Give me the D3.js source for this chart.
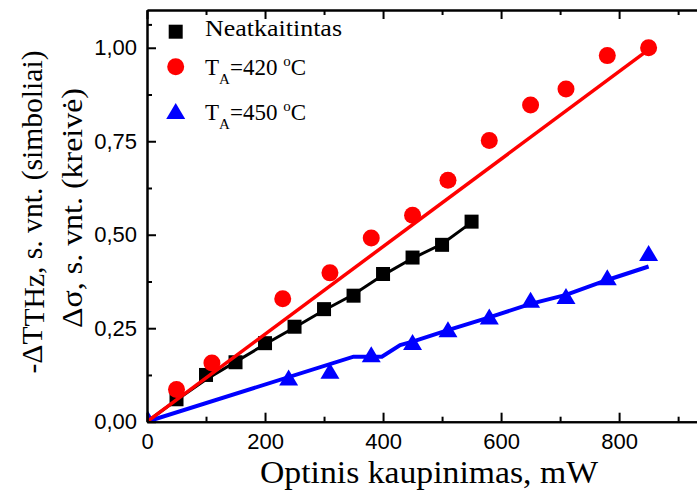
<!DOCTYPE html>
<html>
<head>
<meta charset="utf-8">
<script src="https://cdn.jsdelivr.net/npm/d3@7"></script>
<style>
  html, body { margin: 0; padding: 0; background: #fff; }
  svg { display: block; }
  .serif { font-family: "Liberation Serif", "Times New Roman", "DejaVu Serif", serif; }
  .sans { font-family: "Liberation Sans", Arial, sans-serif; }
</style>
</head>
<body>
<svg id="chart" width="697" height="504"></svg>
<script>
// Pumping power, mW, and normalised signal for each sample
const powerNeatk = [50, 100, 150, 200, 250, 300, 350, 400, 450, 500, 550];
const symNeatk   = [0.06, 0.125, 0.159, 0.21, 0.254, 0.301, 0.337, 0.395, 0.439, 0.473, 0.535];

const power420 = [50, 110, 230, 310, 380, 450, 510, 580, 650, 710, 780, 850];
const sym420   = [0.086, 0.157, 0.329, 0.398, 0.491, 0.552, 0.646, 0.752, 0.847, 0.89, 0.979, 1.0];

const power450 = [0, 240, 310, 380, 450, 510, 580, 650, 710, 780, 850];
const sym450   = [0.01, 0.116, 0.134, 0.178, 0.211, 0.245, 0.279, 0.324, 0.334, 0.384, 0.449];

// Conductivity curves (Δσ)
const curvePowerNeatk = [0, 50, 100, 150, 200, 250, 300, 350, 400, 450, 500, 550];
const curveNeatk      = [0, 0.058, 0.113, 0.16, 0.207, 0.252, 0.298, 0.34, 0.392, 0.437, 0.475, 0.533];

const curvePower420 = [0, 850];
const curve420      = [0, 0.995];

const curvePower450 = [0, 350, 398, 429, 450, 510, 580, 650, 710, 780, 850];
const curve450      = [0, 0.174, 0.174, 0.205, 0.214, 0.245, 0.279, 0.315, 0.339, 0.379, 0.415];

// Axis ticks
const xMajor = [0, 200, 400, 600, 800];
const xMinor = [100, 300, 500, 700, 900];
const yMajor = [0, 0.25, 0.5, 0.75, 1.0];
const yMinor = [0.125, 0.375, 0.625, 0.875, 1.0625];

const svg = d3.select("#chart");
const pLeft = 147, pRight = 697, pTop = 10, pBottom = 421.7;

const x = d3.scaleLinear().domain([0, 932]).range([pLeft, pRight]);
const y = d3.scaleLinear().domain([0, 1.101]).range([pBottom, pTop]);

const zip = (xs, ys) => xs.map((v, i) => [v, ys[i]]);

svg.append("defs").append("clipPath").attr("id", "plotClip")
  .append("rect").attr("x", pLeft).attr("y", pTop)
  .attr("width", pRight - pLeft).attr("height", pBottom - pTop);

const plot = svg.append("g").attr("clip-path", "url(#plotClip)");

const line = d3.line().x(d => x(d[0])).y(d => y(d[1]));

// Symbols
const sqSize = 14;
const triPath = (cx, cy) => {
  const w = 19, h = 16;
  return `M${cx},${cy - h * 0.55}L${cx + w / 2},${cy + h * 0.45}L${cx - w / 2},${cy + h * 0.45}Z`;
};

// Unannealed sample
plot.append("path").datum(zip(curvePowerNeatk, curveNeatk))
  .attr("d", line).attr("fill", "none").attr("stroke", "#000").attr("stroke-width", 3);
plot.selectAll("rect.sq").data(zip(powerNeatk, symNeatk)).enter().append("rect")
  .attr("class", "sq")
  .attr("x", d => x(d[0]) - sqSize / 2).attr("y", d => y(d[1]) - sqSize / 2)
  .attr("width", sqSize).attr("height", sqSize).attr("fill", "#000");

// 450 °C
plot.append("path").datum(zip(curvePower450, curve450))
  .attr("d", line).attr("fill", "none").attr("stroke", "#0000ff").attr("stroke-width", 4);
plot.selectAll("path.tri").data(zip(power450, sym450)).enter().append("path")
  .attr("class", "tri")
  .attr("d", d => triPath(x(d[0]), y(d[1]))).attr("fill", "#0000ff");

// 420 °C
plot.selectAll("circle.c").data(zip(power420, sym420)).enter().append("circle")
  .attr("class", "c")
  .attr("cx", d => x(d[0])).attr("cy", d => y(d[1])).attr("r", 8.5).attr("fill", "#ff0000");
plot.append("path").datum(zip(curvePower420, curve420))
  .attr("d", line).attr("fill", "none").attr("stroke", "#ff0000").attr("stroke-width", 3.5);

// Axes
const fmtY = v => d3.format(".2f")(v).replace(".", ",");

function styleAxis(g) {
  g.attr("font-family", null).attr("font-size", null);
  g.select(".domain").attr("stroke", "#000").attr("stroke-width", 2);
  g.selectAll(".tick line").attr("stroke", "#000").attr("stroke-width", 2);
  g.selectAll(".tick text").attr("fill", "#000").attr("class", "sans")
    .style("font-size", "22px");
}

svg.append("g").attr("transform", `translate(0,${pBottom})`)
  .call(d3.axisBottom(x).tickValues(xMajor).tickSize(-9).tickSizeOuter(0).tickPadding(11.4).tickFormat(d3.format("d")))
  .call(styleAxis);
svg.append("g").attr("transform", `translate(0,${pBottom})`)
  .call(d3.axisBottom(x).tickValues(xMinor).tickSize(-5).tickSizeOuter(0).tickFormat(""))
  .call(styleAxis);

svg.append("g").attr("transform", `translate(0,${pTop})`)
  .call(d3.axisTop(x).tickValues(xMajor).tickSize(-9).tickSizeOuter(0).tickFormat(""))
  .call(styleAxis);
svg.append("g").attr("transform", `translate(0,${pTop})`)
  .call(d3.axisTop(x).tickValues(xMinor).tickSize(-5).tickSizeOuter(0).tickFormat(""))
  .call(styleAxis);

svg.append("g").attr("transform", `translate(${pLeft},0)`)
  .call(d3.axisLeft(y).tickValues(yMajor).tickSize(-9).tickSizeOuter(0).tickPadding(10).tickFormat(fmtY))
  .call(styleAxis);
svg.append("g").attr("transform", `translate(${pLeft},0)`)
  .call(d3.axisLeft(y).tickValues(yMinor).tickSize(-5).tickSizeOuter(0).tickFormat(""))
  .call(styleAxis);

// Axis titles
svg.append("text").attr("class", "serif")
  .attr("x", 429).attr("y", 483)
  .attr("text-anchor", "middle")
  .style("font-size", "32px")
  .attr("textLength", 338).attr("lengthAdjust", "spacingAndGlyphs")
  .text("Optinis kaupinimas, mW");

const yt1 = svg.append("text").attr("class", "serif")
  .attr("transform", "translate(42,212) rotate(-90)")
  .attr("text-anchor", "middle")
  .style("font-size", "29px")
  .attr("textLength", 323).attr("lengthAdjust", "spacingAndGlyphs");
yt1.append("tspan").text("-ΔT");
yt1.append("tspan").attr("dy", 2).text("THz");
yt1.append("tspan").attr("dy", -2).text(", s. vnt. (simboliai)");

svg.append("text").attr("class", "serif")
  .attr("transform", "translate(82,208) rotate(-90)")
  .attr("text-anchor", "middle")
  .style("font-size", "29px")
  .attr("textLength", 240).attr("lengthAdjust", "spacingAndGlyphs")
  .text("Δσ, s. vnt. (kreivė)");

// Legend
const lg = svg.append("g");
const lgX = 175.7;
lg.append("rect").attr("x", lgX - sqSize / 2).attr("y", 31.7 - sqSize / 2)
  .attr("width", sqSize).attr("height", sqSize).attr("fill", "#000");
lg.append("circle").attr("cx", lgX).attr("cy", 66.7).attr("r", 8.5).attr("fill", "#ff0000");
lg.append("path").attr("d", triPath(lgX, 111.7)).attr("fill", "#0000ff");

lg.append("text").attr("class", "serif").attr("x", 205).attr("y", 36)
  .style("font-size", "23px")
  .attr("textLength", 137).attr("lengthAdjust", "spacingAndGlyphs")
  .text("Neatkaitintas");

function tempLabel(yBase, temp) {
  const t = lg.append("text").attr("class", "serif").attr("x", 205).attr("y", yBase)
    .style("font-size", "23px");
  t.append("tspan").text("T");
  t.append("tspan").attr("dy", 9).style("font-size", "15px").text("A");
  t.append("tspan").attr("dy", -9).text("=" + temp + " ");
  t.append("tspan").attr("dy", -9).style("font-size", "15px").text("o");
  t.append("tspan").attr("dy", 9).text("C");
}
tempLabel(75, "420");
tempLabel(120, "450");
</script>
</body>
</html>
